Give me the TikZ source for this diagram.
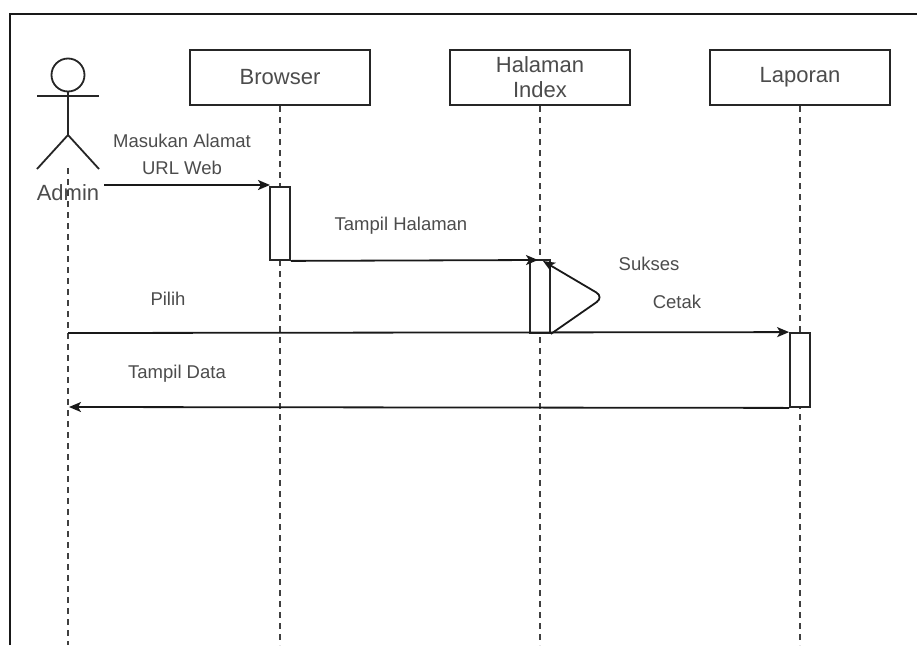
\documentclass[tikz,border=0pt]{standalone}
\usepackage{fontspec}
\setmainfont{Liberation Sans}
\usetikzlibrary{arrows.meta}
\begin{document}
\begin{tikzpicture}[x=1pt,y=-1pt,
  headbox/.style={draw=black!85,line width=2pt,minimum width=180pt,minimum height=55pt,inner sep=0pt,align=center,font=\fontsize{22}{26}\selectfont,text=black!70},
  actbox/.style={draw=black!85,line width=1.8pt,fill=white,minimum width=20pt,inner sep=0pt},
  life/.style={draw=black!75,line width=1.5pt,dash pattern=on 6pt off 5pt},
  msg/.style={draw=black!90,line width=1.8pt,-{Stealth[length=12pt,width=10pt,inset=3pt]}},
  lbl/.style={font=\fontsize{18.5}{27}\selectfont,text=black!70,align=center,inner sep=0pt},
  actor/.style={draw=black!85,line width=1.8pt}]
\useasboundingbox (0,0) rectangle (917,645);
\fill[white] (0,0) rectangle (917,645);
% frame
\draw[black!90,line width=2pt] (10,645) -- (10,14) -- (917,14);
% actor
\node[actor,circle,minimum size=33pt,inner sep=0pt] (head) at (68,75) {};
\coordinate (hip) at (68,135);
\coordinate (armL) at (37,96);
\coordinate (armR) at (99,96);
\coordinate (legL) at (37,169);
\coordinate (legR) at (99,169);
\draw[actor] (head.south) -- (hip);
\draw[actor] (armL) -- (armR);
\draw[actor] (legL) -- (hip) -- (legR);
\node[font=\fontsize{22}{26}\selectfont,text=black!70,inner sep=0pt] (admin) at (68,193) {Admin};
% heads
\node[headbox] (browser) at (280,77.5) {Browser};
\node[headbox] (index) at (540,77.5) {Halaman\\[-1pt]Index};
\node[headbox] (laporan) at (800,77.5) {Laporan};
% lifelines
\coordinate (adminEnd) at (68,645);
\coordinate (adminTop) at (68,168);
\draw[life] (adminTop) -- (adminEnd);
\coordinate (browserEnd) at (280,645);
\draw[life] (browser.south) -- (browserEnd);
\coordinate (indexEnd) at (540,645);
\draw[life] (index.south) -- (indexEnd);
\coordinate (laporanEnd) at (800,645);
\draw[life] (laporan.south) -- (laporanEnd);
% activations
\node[actbox,minimum height=73pt] (actB) at (280,223.5) {};
\node[actbox,minimum height=73pt] (actI) at (540,296.5) {};
\node[actbox,minimum height=74pt] (actL) at (800,370) {};
% messages
\coordinate (m1s) at (104,185);
\coordinate (m1e) at (270,185);
\draw[msg] (m1s) -- (m1e);
\node[lbl] (l1) at (182,154.5) {Masukan Alamat\\URL Web};
\coordinate (m2e) at (538,260);
\draw[msg] (actB.south east) -- (m2e);
\node[lbl] (l2) at (401,226) {Tampil Halaman};
\coordinate (selfMid) at (604,297);
\coordinate (selfEnd) at (543,261);
\draw[msg,rounded corners=9pt] (actI.south east) -- (selfMid) -- (selfEnd);
\node[lbl] (l3) at (649,264) {Sukses};
\node[lbl] (l4) at (677,302) {Cetak};
\coordinate (m3s) at (68,333);
\draw[msg] (m3s) -- (actL.north west);
\node[lbl] (l5) at (168,299) {Pilih};
\coordinate (m4e) at (69,407);
\draw[msg] (actL.south west) -- (m4e);
\node[lbl] (l6) at (177,374) {Tampil Data};
\end{tikzpicture}
\end{document}
